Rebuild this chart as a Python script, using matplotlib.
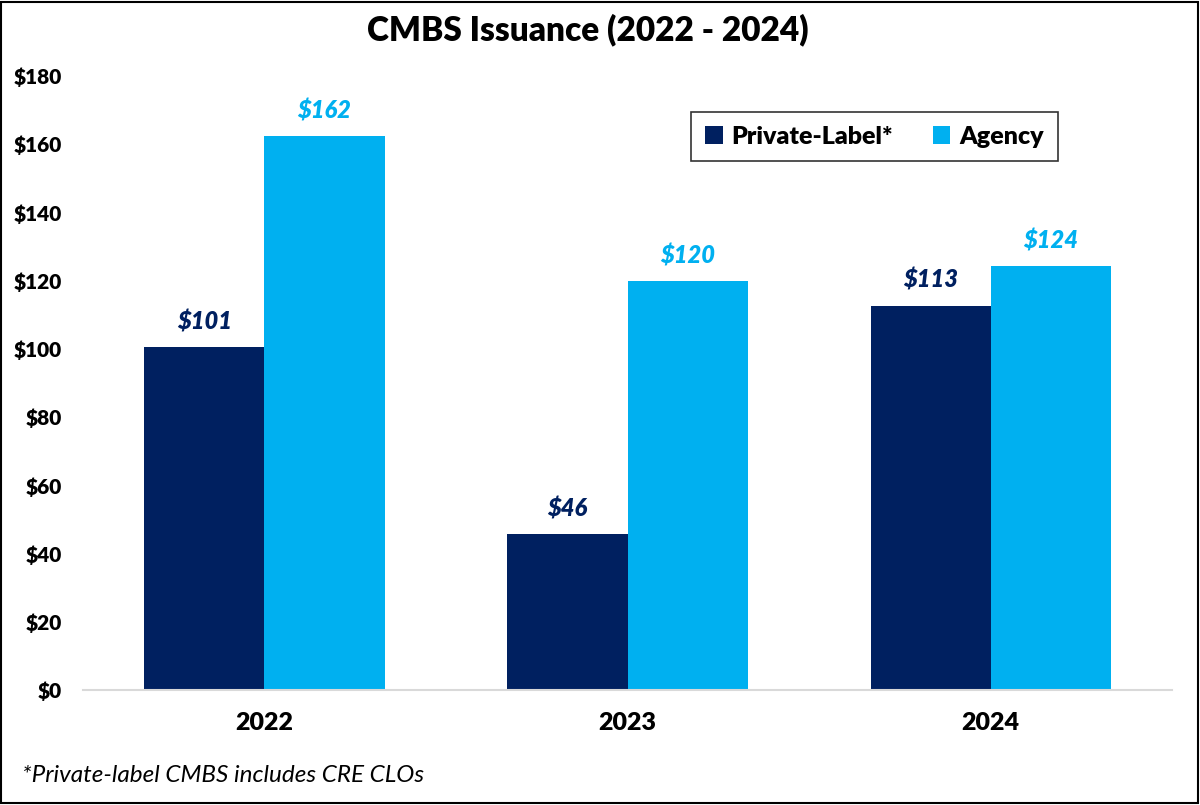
import matplotlib.pyplot as plt
import numpy as np
from matplotlib.patches import Rectangle

years = ['2022', '2023', '2024']
private_label = [100.6, 45.8, 112.7]
agency = [162.4, 119.8, 124.2]
series_names = ['Private-Label*', 'Agency']
navy = '#002060'
cyan = '#00B0F0'

plt.rcParams['font.family'] = ['Lato', 'DejaVu Sans']
heavy = 'heavy'

fig = plt.figure(figsize=(12, 8.05), dpi=100)
ax = fig.add_axes([0.069, 0.1429, 0.908, 0.7627])

x = np.arange(len(years))
w = 0.331
b1 = ax.bar(x - w / 2, private_label, w, color=navy, label=series_names[0])
b2 = ax.bar(x + w / 2, agency, w, color=cyan, label=series_names[1])

for bars, col in ((b1, navy), (b2, cyan)):
    for r in bars:
        v = r.get_height()
        ax.text(r.get_x() + r.get_width() / 2, v + 4, '$%d' % round(v),
                ha='center', va='bottom', color=col, fontsize=17,
                fontweight=heavy, fontstyle='italic')

ax.set_xlim(-0.5, 2.5)
ax.set_ylim(0, 180)
ax.set_yticks(np.arange(0, 181, 20))
ax.set_yticklabels(['$%d' % t for t in range(0, 181, 20)], fontsize=15, fontweight=heavy)
ax.set_xticks(x)
ax.set_xticklabels(years, fontsize=18, fontweight=heavy)
ax.tick_params(axis='both', length=0)
ax.tick_params(axis='y', pad=15)
ax.tick_params(axis='x', pad=16)
for s in ['top', 'right', 'left']:
    ax.spines[s].set_visible(False)
ax.spines['bottom'].set_color('#d9d9d9')
ax.spines['bottom'].set_linewidth(1.5)

leg = ax.legend(loc='upper left', bbox_to_anchor=(0.547, 0.962), ncol=2, frameon=True,
                fancybox=False, edgecolor='black', handlelength=0.7,
                handleheight=0.7, handletextpad=0.35, columnspacing=1.6,
                borderpad=0.55, prop={'weight': heavy, 'size': 18})
leg.get_frame().set_linewidth(1.2)

fig.text(0.49, 0.963, 'CMBS Issuance (2022 - 2024)', ha='center', va='center',
         fontsize=24, fontweight=heavy)
fig.text(0.018, 0.037, '*Private-label CMBS includes CRE CLOs', ha='left', va='center',
         fontsize=17.5, fontstyle='italic')

fig.patches.append(Rectangle((0.001, 0.002), 0.997, 0.996, transform=fig.transFigure,
                             fill=False, edgecolor='black', linewidth=1.5))

fig.savefig('out.png', dpi=100)
